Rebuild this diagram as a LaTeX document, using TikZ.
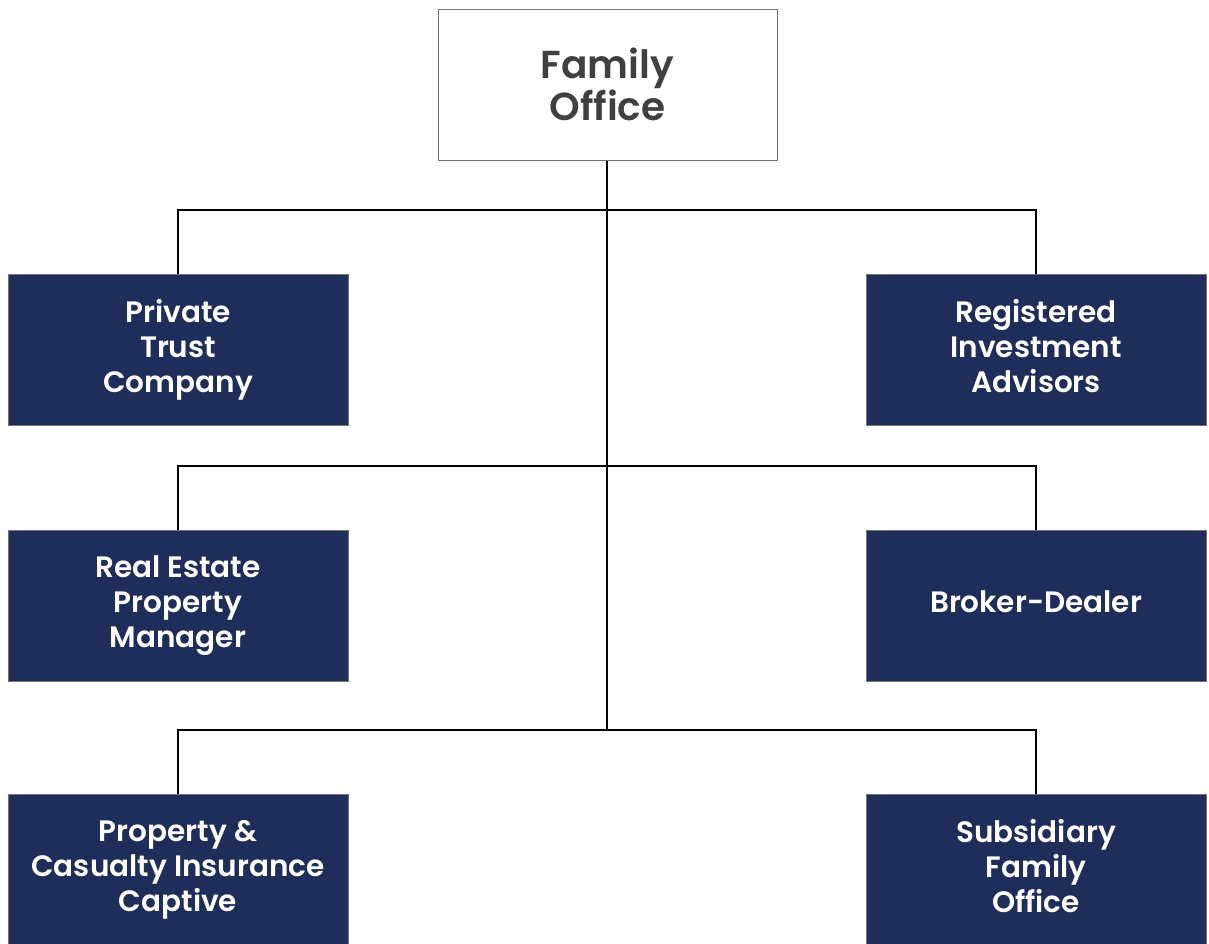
\documentclass[tikz,border=0pt]{standalone}
\usepackage{fontspec}
\setmainfont{Poppins}[BoldFont={Poppins SemiBold}]
\definecolor{navy}{HTML}{1F2D5A}
\definecolor{edge}{HTML}{747474}
\definecolor{txtgray}{HTML}{404040}
\begin{document}
\begin{tikzpicture}[x=1pt,y=1pt,
  topbox/.style={draw=edge,line width=1pt,fill=white,minimum width=339pt,minimum height=151pt,inner sep=0pt,
    align=center,text=txtgray,font=\fontsize{39}{42}\selectfont\bfseries},
  unit/.style={draw=edge,line width=1pt,fill=navy,minimum width=340pt,minimum height=151pt,inner sep=0pt,
    align=center,text=white,font=\fontsize{29.5}{35}\selectfont\bfseries,
    execute at begin node=\vphantom{Cy}, execute at end node=\vphantom{Cy}},
  link/.style={line width=2.5pt,black}]
\useasboundingbox (0,0) rectangle (1209,-943);
\clip (0,0) rectangle (1209,-943);
\node[topbox] (fo) at (607.5,-84.5) {Family\\Office};
\node[unit] (ptc) at (178,-349.5) {Private\\Trust\\Company};
\node[unit] (ria) at (1036,-349.5) {Registered\\Investment\\Advisors};
\node[unit] (re) at (178,-605.5) {Real Estate\\Property\\Manager};
\node[unit] (bd) at (1036,-605.5) {Broker-Dealer};
\node[unit] (pc) at (178,-869.5) {Property \&\\Casualty Insurance\\Captive};
\node[unit] (sfo) at (1036,-869.5) {Subsidiary\\Family\\Office};
\coordinate (j1) at (607,-210);
\coordinate (j2) at (607,-466);
\coordinate (j3) at (607,-730);
\draw[link] (fo.south -| j1) -- (j3);
\draw[link] (ptc.north) -- (ptc.north |- j1) -- (ria.north |- j1) -- (ria.north);
\draw[link] (re.north) -- (re.north |- j2) -- (bd.north |- j2) -- (bd.north);
\draw[link] (pc.north) -- (pc.north |- j3) -- (sfo.north |- j3) -- (sfo.north);
\end{tikzpicture}
\end{document}
